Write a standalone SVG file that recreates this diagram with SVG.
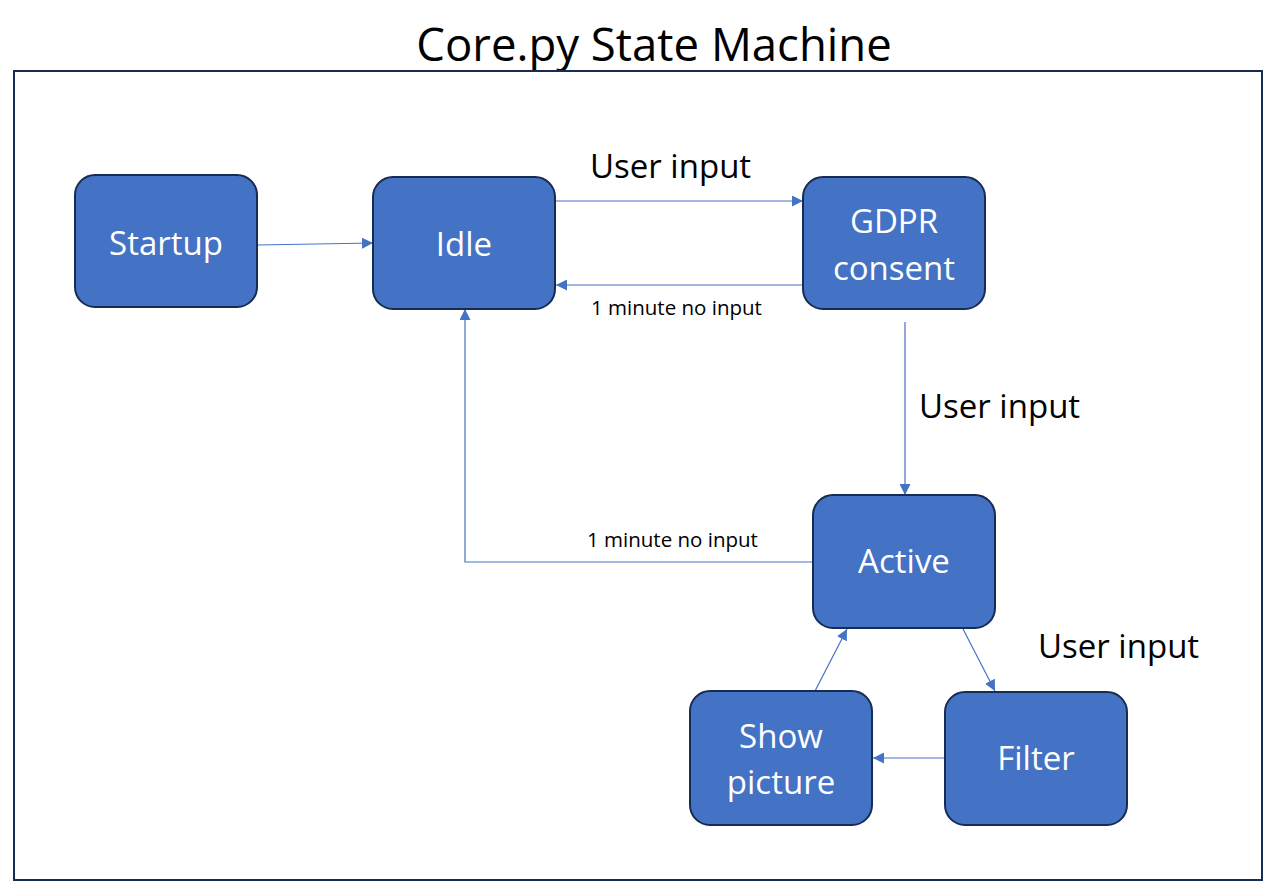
<svg xmlns="http://www.w3.org/2000/svg" width="1277" height="894" viewBox="0 0 1277 894">
<style>
.node rect{fill:#4472C4;stroke:#172C51;stroke-width:2}
.node text{fill:#fff;font-family:"Open Sans","Noto Sans",sans-serif;font-size:33px;text-anchor:middle}
.lbl{fill:#000;font-family:"Open Sans","Noto Sans",sans-serif;font-size:33px}
.sm{fill:#000;font-family:"Open Sans","Noto Sans",sans-serif;font-size:20.5px}
.con path{fill:none;stroke:#4472C4;stroke-width:1.2;marker-end:url(#arr)}
</style>
<defs>
<marker id="arr" viewBox="0 0 10 10" refX="10" refY="5" markerWidth="11" markerHeight="11" markerUnits="userSpaceOnUse" orient="auto">
<path d="M0,0 L10,5 L0,10 z" fill="#4472C4"/>
</marker>
</defs>
<rect width="1277" height="894" fill="#fff"/>
<text x="654" y="61" text-anchor="middle" style="font-family:'Open Sans','Noto Sans',sans-serif;font-size:45.5px;fill:#000">Core.py State Machine</text>
<rect id="frame" x="14" y="71" width="1248" height="809" fill="none" stroke="#172C51" stroke-width="2"/>
<g class="con" id="connectors">
<path d="M258,245 L373,243"/>
<path d="M556,201 L803,201"/>
<path d="M803,285 L556,285"/>
<path d="M905,322 L905,495"/>
<path d="M813,562 L465,562 L465,309"/>
<path d="M963,629 L995,691"/>
<path d="M945,758 L873,758"/>
<path d="M815,691 L847,629"/>
</g>
<text class="lbl" x="590" y="178">User input</text>
<text class="lbl" x="919" y="418">User input</text>
<text class="lbl" x="1038" y="658">User input</text>
<text class="sm" x="591" y="315">1 minute no input</text>
<text class="sm" x="587" y="547">1 minute no input</text>
<g class="node" id="startup"><rect x="75" y="175" width="182" height="132" rx="20"/><text x="166" y="255">Startup</text></g>
<g class="node" id="idle"><rect x="373" y="177" width="182" height="132" rx="20"/><text x="464" y="256">Idle</text></g>
<g class="node" id="gdpr"><rect x="803" y="177" width="182" height="132" rx="20"/><text x="894" y="233">GDPR</text><text x="894" y="280">consent</text></g>
<g class="node" id="active"><rect x="813" y="495" width="182" height="133" rx="20"/><text x="904" y="573">Active</text></g>
<g class="node" id="show"><rect x="690" y="691" width="182" height="134" rx="20"/><text x="781" y="748">Show</text><text x="781" y="794">picture</text></g>
<g class="node" id="filter"><rect x="945" y="692" width="182" height="133" rx="20"/><text x="1036" y="770">Filter</text></g>
</svg>
